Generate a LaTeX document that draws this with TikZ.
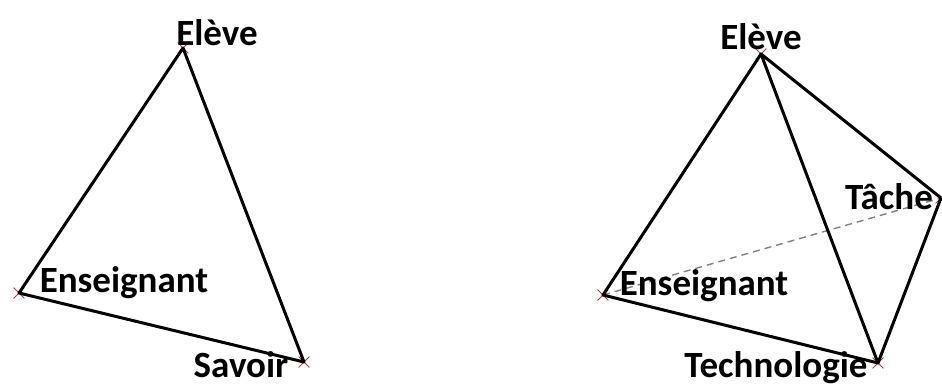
\documentclass[tikz,border=0pt]{standalone}
\usepackage{fontspec}
\setmainfont{Carlito}
\usetikzlibrary{shapes.misc}
\definecolor{markred}{RGB}{170,60,70}

\begin{document}
\begin{tikzpicture}[x=1pt,y=-1pt,
  edge/.style={line width=3pt,line join=round,line cap=round},
  hidden/.style={gray,line width=1.4pt,dash pattern=on 7pt off 5pt},
  vmark/.style={cross out,draw=markred,line width=0.8pt,minimum size=10pt,inner sep=0pt},
  lbl/.style={font=\fontsize{37}{42}\selectfont\bfseries,inner sep=0pt}]
\useasboundingbox (0,0) rectangle (942,388);
% left: didactic triangle
\node[vmark] (eleveA) at (183,48) {};
\node[vmark] (ensA) at (19,293) {};
\node[vmark] (savA) at (304,362) {};
\draw[edge] (eleveA.center) -- (ensA.center) -- (savA.center) -- cycle;
\node[lbl] (televeA) at (217,33) {Elève};
\node[lbl] (tensA) at (124,283) {Enseignant};
\node[lbl] (tsavA) at (241,365) {Savoir};
% right: tetrahedron
\node[vmark] (eleveB) at (761,54) {};
\node[vmark] (ensB) at (603,295) {};
\node[vmark] (techB) at (878,363) {};
\node[vmark] (tacheB) at (941,198) {};
\draw[hidden] (ensB.center) -- (tacheB.center);
\draw[edge] (eleveB.center) -- (ensB.center) -- (techB.center) -- (tacheB.center) -- cycle;
\draw[edge] (eleveB.center) -- (techB.center);
\node[lbl] (televeB) at (761,37) {Elève};
\node[lbl] (ttacheB) at (889,197) {Tâche};
\node[lbl] (tensB) at (704,286) {Enseignant};
\node[lbl] (ttechB) at (776,368) {Technologie};
\end{tikzpicture}
\end{document}
